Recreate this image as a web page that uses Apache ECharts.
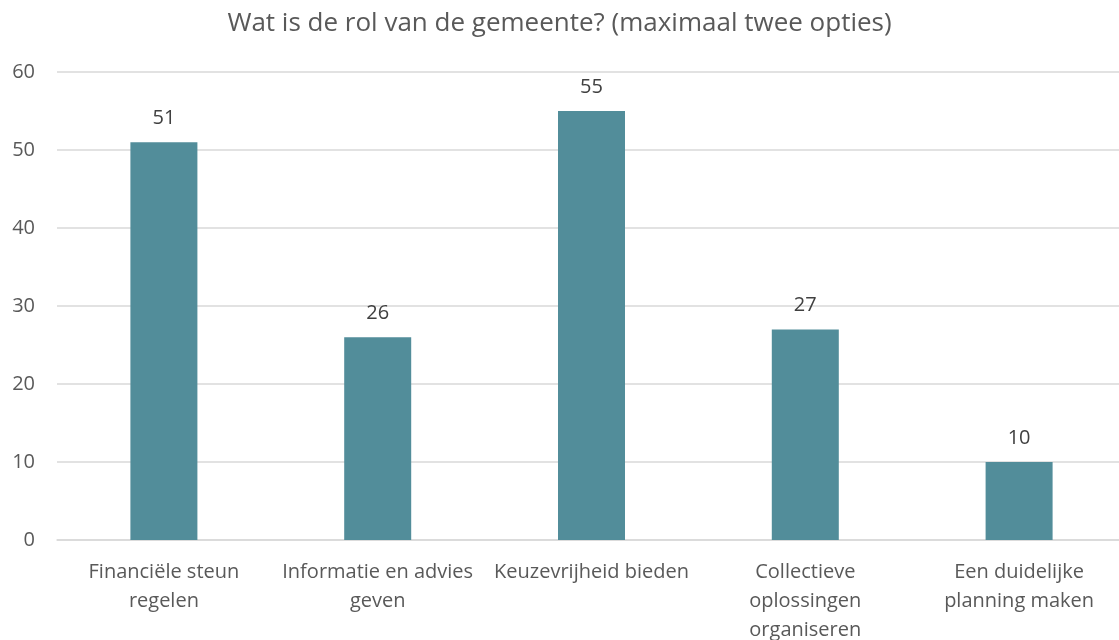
<!DOCTYPE html>
<html>
<head>
<meta charset="utf-8">
<script src="https://cdn.jsdelivr.net/npm/echarts@6/dist/echarts.min.js"></script>
<style>
  html, body { margin: 0; padding: 0; background: #fff; }
  #chart { width: 1119px; height: 640px; }
</style>
</head>
<body>
<div id="chart"></div>
<script>
var categories = ['Financiële steun\nregelen', 'Informatie en advies\ngeven', 'Keuzevrijheid bieden', 'Collectieve\noplossingen\norganiseren', 'Een duidelijke\nplanning maken'];
var values = [51, 26, 55, 27, 10];

var font = '"Open Sans", "Noto Sans", sans-serif';
var chart = echarts.init(document.getElementById('chart'));
chart.setOption({
  animation: false,
  title: {
    text: 'Wat is de rol van de gemeente? (maximaal twee opties)',
    left: 'center',
    top: 6,
    textStyle: { fontFamily: font, fontSize: 26, fontWeight: 'normal', color: '#595959' }
  },
  grid: { left: 57, right: -7, top: 72, bottom: 100, containLabel: false, outerBoundsMode: 'none' },
  xAxis: {
    type: 'category',
    data: categories,
    axisLine: { lineStyle: { color: '#d9d9d9', width: 1.5 } },
    axisTick: { show: false },
    axisLabel: { fontFamily: font, fontSize: 20, color: '#595959', margin: 18, lineHeight: 29, interval: 0 }
  },
  yAxis: {
    type: 'value',
    min: 0,
    max: 60,
    interval: 10,
    axisLine: { show: false },
    axisTick: { show: false },
    splitLine: { lineStyle: { color: '#d9d9d9', width: 1.5 } },
    axisLabel: { fontFamily: font, fontSize: 20, color: '#595959', margin: 22 }
  },
  series: [{
    type: 'bar',
    data: values,
    barWidth: 67,
    itemStyle: { color: '#528d9a' },
    label: { show: true, position: 'top', distance: 14, fontFamily: font, fontSize: 20, color: '#404040' }
  }]
});
</script>
</body>
</html>
